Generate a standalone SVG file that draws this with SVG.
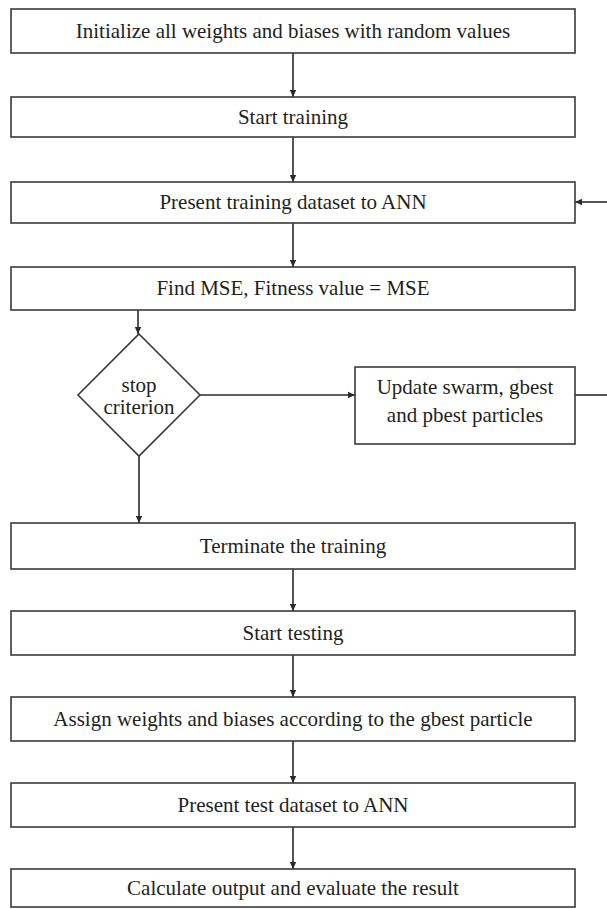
<svg xmlns="http://www.w3.org/2000/svg" width="607" height="909" viewBox="0 0 607 909">
<style>
.box{fill:#fff;stroke:#3a3a3a;stroke-width:1.6}
.t{font-family:'Liberation Serif','DejaVu Serif',serif;font-size:21px;fill:#231f20;text-anchor:middle}
.c{stroke:#2a2a2a;stroke-width:1.6;fill:none}
</style>
<defs>
<marker id="ah" markerWidth="8" markerHeight="8" refX="7" refY="4" orient="auto" markerUnits="userSpaceOnUse">
<path d="M0,0.8 L7,4 L0,7.2 Z" fill="#2a2a2a"/>
</marker>
</defs>
<rect width="607" height="909" fill="#fff"/>
<g id="connectors">
<line class="c" x1="293" y1="53" x2="293" y2="97" marker-end="url(#ah)"/>
<line class="c" x1="293" y1="137" x2="293" y2="182" marker-end="url(#ah)"/>
<line class="c" x1="293" y1="223" x2="293" y2="267" marker-end="url(#ah)"/>
<line class="c" x1="138" y1="310" x2="138" y2="334" marker-end="url(#ah)"/>
<line class="c" x1="139" y1="456" x2="139" y2="523" marker-end="url(#ah)"/>
<line class="c" x1="200" y1="395" x2="355" y2="395" marker-end="url(#ah)"/>
<line class="c" x1="575" y1="395" x2="607" y2="395"/>
<line class="c" x1="607" y1="202" x2="575" y2="202" marker-end="url(#ah)"/>
<line class="c" x1="293" y1="569" x2="293" y2="611" marker-end="url(#ah)"/>
<line class="c" x1="293" y1="655" x2="293" y2="697" marker-end="url(#ah)"/>
<line class="c" x1="293" y1="741" x2="293" y2="783" marker-end="url(#ah)"/>
<line class="c" x1="293" y1="827" x2="293" y2="869" marker-end="url(#ah)"/>
</g>
<g id="n1"><rect class="box" x="11" y="9" width="564" height="44"/><text class="t" x="293" y="38">Initialize all weights and biases with random values</text></g>
<g id="n2"><rect class="box" x="11" y="97" width="564" height="40"/><text class="t" x="293" y="124">Start training</text></g>
<g id="n3"><rect class="box" x="11" y="182" width="564" height="41"/><text class="t" x="293" y="209">Present training dataset to ANN</text></g>
<g id="n4"><rect class="box" x="11" y="267" width="564" height="43"/><text class="t" x="293" y="295">Find MSE, Fitness value = MSE</text></g>
<g id="n5"><path class="box" d="M139,334 L200,395 L139,456 L78,395 Z"/><text class="t" x="139" y="392">stop</text><text class="t" x="139" y="414">criterion</text></g>
<g id="n6"><rect class="box" x="355" y="367" width="220" height="77"/><text class="t" x="465" y="394">Update swarm, gbest</text><text class="t" x="465" y="422">and pbest particles</text></g>
<g id="n7"><rect class="box" x="11" y="523" width="564" height="46"/><text class="t" x="293" y="553">Terminate the training</text></g>
<g id="n8"><rect class="box" x="11" y="611" width="564" height="44"/><text class="t" x="293" y="640">Start testing</text></g>
<g id="n9"><rect class="box" x="11" y="697" width="564" height="44"/><text class="t" x="293" y="726">Assign weights and biases according to the gbest particle</text></g>
<g id="n10"><rect class="box" x="11" y="783" width="564" height="44"/><text class="t" x="293" y="812">Present test dataset to ANN</text></g>
<g id="n11"><rect class="box" x="11" y="869" width="564" height="38"/><text class="t" x="293" y="895">Calculate output and evaluate the result</text></g>
</svg>
